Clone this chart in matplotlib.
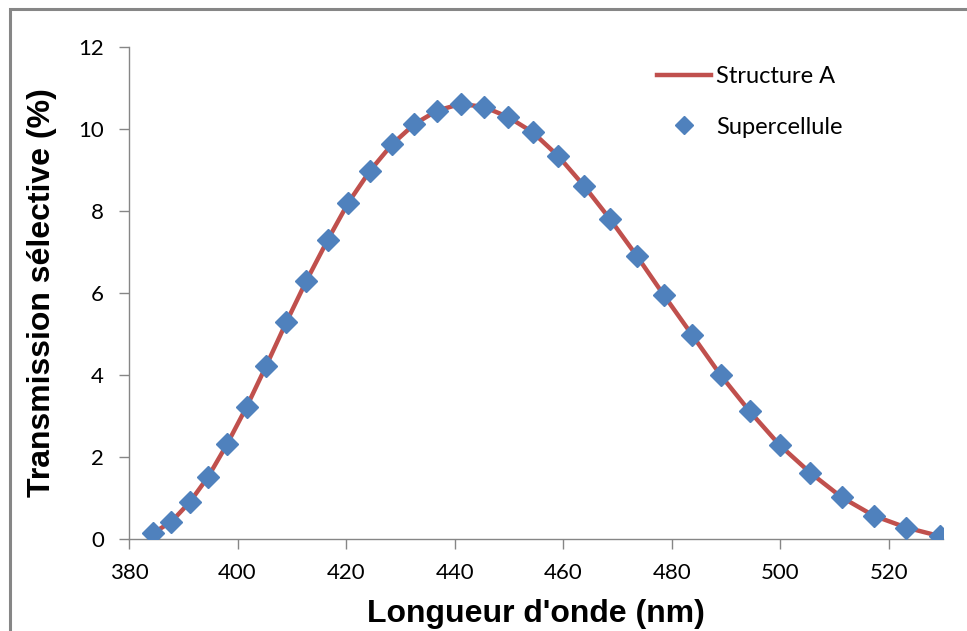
import matplotlib
matplotlib.use("Agg")
import matplotlib.pyplot as plt
from matplotlib.lines import Line2D
from matplotlib.patches import Rectangle

# Data
wavelength = [384.5, 387.8, 391.2, 394.6, 398.1, 401.7, 405.3, 409.0, 412.7,
              416.6, 420.4, 424.4, 428.5, 432.6, 436.8, 441.1, 445.4, 449.9,
              454.4, 459.1, 463.8, 468.6, 473.6, 478.6, 483.8, 489.0, 494.4,
              499.9, 505.5, 511.3, 517.2, 523.2, 529.4]
structure_a = [0.15, 0.42, 0.90, 1.52, 2.32, 3.23, 4.23, 5.29, 6.30,
               7.29, 8.20, 8.98, 9.63, 10.12, 10.45, 10.61, 10.54, 10.29,
               9.92, 9.34, 8.62, 7.81, 6.90, 5.94, 4.97, 4.00, 3.11,
               2.29, 1.62, 1.02, 0.57, 0.28, 0.07]
supercellule = [0.15, 0.42, 0.90, 1.52, 2.32, 3.23, 4.23, 5.29, 6.30,
                7.29, 8.20, 8.98, 9.63, 10.12, 10.45, 10.61, 10.54, 10.29,
                9.92, 9.34, 8.62, 7.81, 6.90, 5.94, 4.97, 4.00, 3.11,
                2.29, 1.62, 1.02, 0.57, 0.28, 0.07]
xticks = [380, 400, 420, 440, 460, 480, 500, 520]
yticks = [0, 2, 4, 6, 8, 10, 12]

W, H = 967, 631
fig = plt.figure(figsize=(W / 100, H / 100), dpi=100)
fig.patch.set_facecolor("white")

# chart-area border (cropped on right and bottom)
fig.add_artist(Rectangle((10 / W, -0.1), 1.2, (H - 9) / H + 0.1, transform=fig.transFigure,
                         fill=False, edgecolor="#868686", linewidth=2.2))

ax = fig.add_axes([129 / W, 1 - 539 / H, (943 - 129) / W, (539 - 47) / H])
grey = "#868686"
ax.plot(wavelength, structure_a, color="#C0504D", linewidth=3.2, zorder=2,
        solid_capstyle="round")
ax.plot(wavelength, supercellule, linestyle="none", marker="D", markersize=11.5,
        color="#4F81BD", markeredgecolor="#4F81BD", zorder=3)

ax.set_xlim(380, 530)
ax.set_ylim(0, 12)
ax.set_xticks(xticks)
ax.set_yticks(yticks)
ax.set_xticklabels([str(v) for v in xticks], fontfamily="Lato", fontsize=16)
ax.set_yticklabels([str(v) for v in yticks], fontfamily="Lato", fontsize=16)
for s in ["top", "right"]:
    ax.spines[s].set_visible(False)
for s in ["left", "bottom"]:
    ax.spines[s].set_color(grey)
    ax.spines[s].set_linewidth(1.0)
ax.tick_params(axis="both", direction="out", length=7, width=1.0, color=grey,
               labelcolor="black")
ax.tick_params(axis="x", pad=10)
ax.tick_params(axis="y", pad=11)

ax.set_xlabel("Longueur d'onde (nm)", fontsize=23, fontweight="bold",
              fontfamily="Liberation Sans", labelpad=12)
ax.set_ylabel("Transmission sélective (%)", fontsize=23, fontweight="bold",
              fontfamily="Liberation Sans", labelpad=15)

handles = [Line2D([], [], color="#C0504D", linewidth=3.2),
           Line2D([], [], linestyle="none", marker="D", markersize=9, color="#4F81BD")]
leg = ax.legend(handles, ["Structure A", "Supercellule"], loc="upper left",
                bbox_to_anchor=(657 / W, 1 - 66 / H), bbox_transform=fig.transFigure,
                borderaxespad=0, borderpad=0, frameon=False,
                prop={"family": "Lato", "size": 17}, handlelength=2.3,
                handletextpad=0.2, labelspacing=1.25)

fig.savefig("out.png", dpi=100, facecolor="white")
